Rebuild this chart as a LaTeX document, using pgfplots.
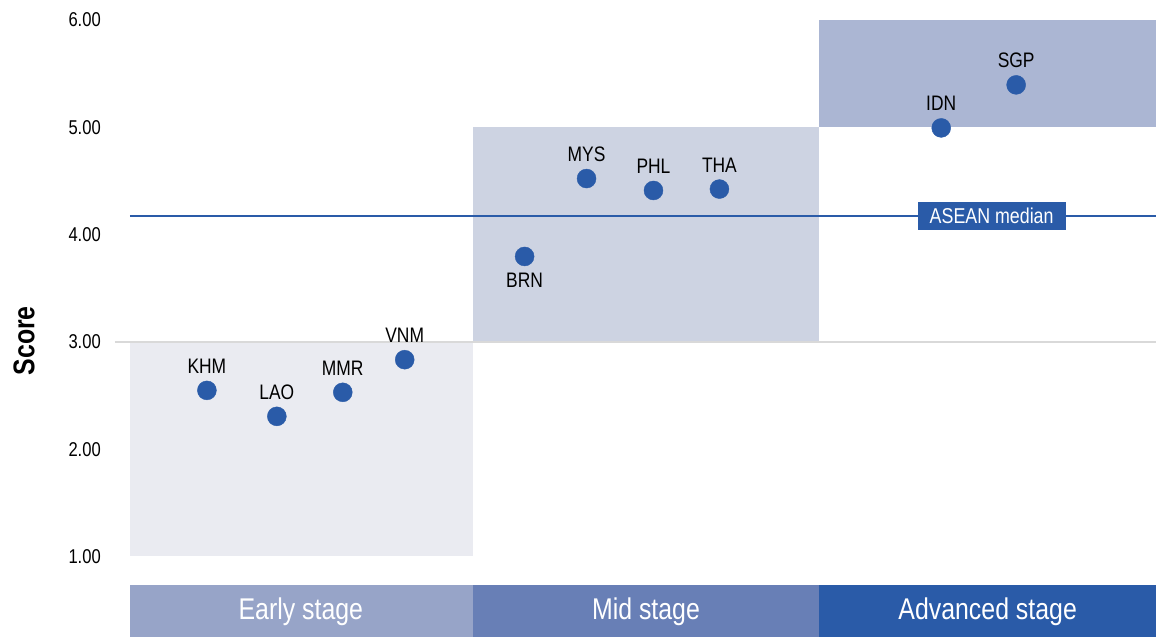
\documentclass[border=0pt]{standalone}
\usepackage{pgfplots}
\pgfplotsset{compat=1.18}
\usepackage{pgfplotstable}
\usepackage{fontspec}
\setmainfont{Liberation Sans}[FakeStretch=0.83]
\definecolor{earlybg}{HTML}{EAEBF1}
\definecolor{midbg}{HTML}{CDD3E2}
\definecolor{advbg}{HTML}{ABB6D3}
\definecolor{earlybar}{HTML}{97A4C8}
\definecolor{midbar}{HTML}{687FB6}
\definecolor{advbar}{HTML}{2A5BA8}
\definecolor{dotc}{HTML}{2A5BA8}
\definecolor{gridc}{HTML}{D9D9D9}

\pgfplotstableread{
x y label
207 2.548 KHM
277 2.306 LAO
343 2.530 MMR
405 2.834 VNM
587 4.522 MYS
654 4.411 PHL
720 4.424 THA
942 4.994 IDN
1017 5.395 SGP
}\abovedata
\pgfplotstableread{
x y label
525 3.796 BRN
}\belowdata

\begin{document}
\begin{tikzpicture}
\begin{axis}[
  width=1157pt, height=638pt, scale only axis,
  xmin=0, xmax=1157, ymin=0.246, ymax=6.186,
  axis line style={draw=none},
  major tick length=0pt,
  xtick=\empty,
  ytick={1,2,3,4,5,6},
  yticklabels={1.00,2.00,3.00,4.00,5.00,6.00},
  yticklabel style={font=\fontsize{20}{24}\selectfont, anchor=east, xshift=101pt, inner sep=0pt},
  clip=false,
]
% stage backgrounds
\addplot[draw=none, fill=earlybg] coordinates {(130,1) (473,1) (473,3) (130,3)} -- cycle;
\addplot[draw=none, fill=midbg] coordinates {(473,3) (820,3) (820,5) (473,5)} -- cycle;
\addplot[draw=none, fill=advbg] coordinates {(820,5) (1157,5) (1157,6) (820,6)} -- cycle;
% stage bars
\addplot[draw=none, fill=earlybar] coordinates {(130,0.246) (473.5,0.246) (473.5,0.730) (130,0.730)} -- cycle;
\addplot[draw=none, fill=midbar] coordinates {(473,0.246) (820.5,0.246) (820.5,0.730) (473,0.730)} -- cycle;
\addplot[draw=none, fill=advbar] coordinates {(820,0.246) (1157,0.246) (1157,0.730) (820,0.730)} -- cycle;
% gridline at 3
\addplot[gridc, line width=1.5pt] coordinates {(115,3) (1157,3)};
% median line
\addplot[dotc, line width=2pt] coordinates {(130,4.175) (1157,4.175)};
\node[fill=dotc, text=white, minimum width=148pt, minimum height=28pt, inner sep=0pt, font=\fontsize{21.5}{24}\selectfont] at (axis cs:992.5,4.175) {ASEAN median};
% points
\addplot[only marks, mark=*, mark size=9.5pt, mark options={draw=dotc, fill=dotc},
  nodes near coords, point meta=explicit symbolic,
  every node near coord/.append style={anchor=base, yshift=17pt, text=black, inner sep=0pt, font=\fontsize{21}{24}\selectfont}]
  table[x=x, y=y, meta=label] {\abovedata};
\addplot[only marks, mark=*, mark size=9.5pt, mark options={draw=dotc, fill=dotc},
  nodes near coords, point meta=explicit symbolic,
  every node near coord/.append style={anchor=base, yshift=-31pt, text=black, inner sep=0pt, font=\fontsize{21}{24}\selectfont}]
  table[x=x, y=y, meta=label] {\belowdata};
% stage labels
\node[text=white, font=\fontsize{30}{34}\selectfont] at (axis cs:301,0.488) {Early stage};
\node[text=white, font=\fontsize{30}{34}\selectfont] at (axis cs:646.5,0.488) {Mid stage};
\node[text=white, font=\fontsize{30}{34}\selectfont] at (axis cs:988.5,0.488) {Advanced stage};
% y label
\node[rotate=90, font=\bfseries\fontsize{30}{34}\selectfont] at (axis cs:24,3.01) {Score};
\path (axis cs:0,0.246) rectangle (axis cs:1157,6.186);
\end{axis}
\end{tikzpicture}
\end{document}
